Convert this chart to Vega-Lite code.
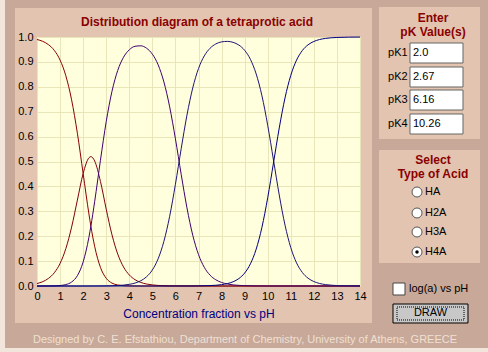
{
  "$schema": "https://vega.github.io/schema/vega-lite/v6.json",
  "width": 323,
  "height": 249,
  "autosize": {"type": "none"},
  "padding": {"left": 37, "top": 37, "right": 128, "bottom": 66},
  "background": "#e2c4b0",
  "config": {
    "view": {"fill": "#ffffdd", "stroke": null},
    "font": "Liberation Sans",
    "text": {"font": "Liberation Sans"}
  },
  "data": {"values": [{}]},
  "resolve": {"scale": {"x": "independent", "y": "independent"}},
  "layer": [
    {
      "data": {"values": [
        {"pH": 0, "s": "H4A", "f": 0.990}, {"pH": 0.25, "s": "H4A", "f": 0.9825}, {"pH": 0.5, "s": "H4A", "f": 0.9691}, {"pH": 0.75, "s": "H4A", "f": 0.9462}, {"pH": 1, "s": "H4A", "f": 0.9073}, {"pH": 1.25, "s": "H4A", "f": 0.8442}, {"pH": 1.5, "s": "H4A", "f": 0.7476}, {"pH": 1.75, "s": "H4A", "f": 0.6135}, {"pH": 2, "s": "H4A", "f": 0.4517}, {"pH": 2.25, "s": "H4A", "f": 0.2895}, {"pH": 2.335, "s": "H4A", "f": 0.2402}, {"pH": 2.5, "s": "H4A", "f": 0.1587}, {"pH": 2.75, "s": "H4A", "f": 0.0747}, {"pH": 3, "s": "H4A", "f": 0.0309}, {"pH": 3.25, "s": "H4A", "f": 0.0116}, {"pH": 3.5, "s": "H4A", "f": 0.0041}, {"pH": 3.75, "s": "H4A", "f": 0.0014}, {"pH": 4, "s": "H4A", "f": 0.0004}, {"pH": 4.5, "s": "H4A", "f": 0}, {"pH": 14, "s": "H4A", "f": 0},
        {"pH": 0, "s": "H3A", "f": 0.0099}, {"pH": 0.25, "s": "H3A", "f": 0.0175}, {"pH": 0.5, "s": "H3A", "f": 0.0307}, {"pH": 0.75, "s": "H3A", "f": 0.0532}, {"pH": 1, "s": "H3A", "f": 0.0907}, {"pH": 1.25, "s": "H3A", "f": 0.1501}, {"pH": 1.5, "s": "H3A", "f": 0.2364}, {"pH": 1.75, "s": "H3A", "f": 0.345}, {"pH": 2, "s": "H3A", "f": 0.4517}, {"pH": 2.25, "s": "H3A", "f": 0.5148}, {"pH": 2.335, "s": "H3A", "f": 0.5196}, {"pH": 2.5, "s": "H3A", "f": 0.5019}, {"pH": 2.75, "s": "H3A", "f": 0.4201}, {"pH": 3, "s": "H3A", "f": 0.3087}, {"pH": 3.25, "s": "H3A", "f": 0.2056}, {"pH": 3.5, "s": "H3A", "f": 0.1281}, {"pH": 3.75, "s": "H3A", "f": 0.0764}, {"pH": 4, "s": "H3A", "f": 0.0444}, {"pH": 4.25, "s": "H3A", "f": 0.0253}, {"pH": 4.5, "s": "H3A", "f": 0.0143}, {"pH": 4.75, "s": "H3A", "f": 0.0079}, {"pH": 5, "s": "H3A", "f": 0.0044}, {"pH": 5.25, "s": "H3A", "f": 0.0023}, {"pH": 5.5, "s": "H3A", "f": 0.0012}, {"pH": 5.75, "s": "H3A", "f": 0.0006}, {"pH": 6, "s": "H3A", "f": 0.0003}, {"pH": 6.5, "s": "H3A", "f": 0}, {"pH": 14, "s": "H3A", "f": 0},
        {"pH": 0, "s": "H2A", "f": 0}, {"pH": 0.5, "s": "H2A", "f": 0.0002}, {"pH": 0.75, "s": "H2A", "f": 0.0006}, {"pH": 1, "s": "H2A", "f": 0.0019}, {"pH": 1.25, "s": "H2A", "f": 0.0057}, {"pH": 1.5, "s": "H2A", "f": 0.016}, {"pH": 1.75, "s": "H2A", "f": 0.0415}, {"pH": 2, "s": "H2A", "f": 0.0966}, {"pH": 2.25, "s": "H2A", "f": 0.1957}, {"pH": 2.335, "s": "H2A", "f": 0.2402}, {"pH": 2.5, "s": "H2A", "f": 0.3393}, {"pH": 2.75, "s": "H2A", "f": 0.505}, {"pH": 3, "s": "H2A", "f": 0.66}, {"pH": 3.25, "s": "H2A", "f": 0.7818}, {"pH": 3.5, "s": "H2A", "f": 0.866}, {"pH": 3.75, "s": "H2A", "f": 0.9187}, {"pH": 4, "s": "H2A", "f": 0.9486}, {"pH": 4.25, "s": "H2A", "f": 0.9627}, {"pH": 4.5, "s": "H2A", "f": 0.9646}, {"pH": 4.75, "s": "H2A", "f": 0.9549}, {"pH": 5, "s": "H2A", "f": 0.9312}, {"pH": 5.25, "s": "H2A", "f": 0.8884}, {"pH": 5.5, "s": "H2A", "f": 0.8195}, {"pH": 5.75, "s": "H2A", "f": 0.7195}, {"pH": 6, "s": "H2A", "f": 0.5909}, {"pH": 6.25, "s": "H2A", "f": 0.4483}, {"pH": 6.5, "s": "H2A", "f": 0.3137}, {"pH": 6.75, "s": "H2A", "f": 0.2044}, {"pH": 7, "s": "H2A", "f": 0.1262}, {"pH": 7.25, "s": "H2A", "f": 0.0751}, {"pH": 7.5, "s": "H2A", "f": 0.0436}, {"pH": 7.75, "s": "H2A", "f": 0.025}, {"pH": 8, "s": "H2A", "f": 0.0142}, {"pH": 8.25, "s": "H2A", "f": 0.008}, {"pH": 8.5, "s": "H2A", "f": 0.0045}, {"pH": 8.75, "s": "H2A", "f": 0.0025}, {"pH": 9, "s": "H2A", "f": 0.0014}, {"pH": 9.5, "s": "H2A", "f": 0.0004}, {"pH": 10, "s": "H2A", "f": 0.0001}, {"pH": 14, "s": "H2A", "f": 0},
        {"pH": 0, "s": "HA", "f": 0}, {"pH": 2, "s": "HA", "f": 0}, {"pH": 2.5, "s": "HA", "f": 0.0001}, {"pH": 3, "s": "HA", "f": 0.0005}, {"pH": 3.25, "s": "HA", "f": 0.001}, {"pH": 3.5, "s": "HA", "f": 0.0019}, {"pH": 3.75, "s": "HA", "f": 0.0036}, {"pH": 4, "s": "HA", "f": 0.0066}, {"pH": 4.25, "s": "HA", "f": 0.0118}, {"pH": 4.5, "s": "HA", "f": 0.0211}, {"pH": 4.75, "s": "HA", "f": 0.0372}, {"pH": 5, "s": "HA", "f": 0.0644}, {"pH": 5.25, "s": "HA", "f": 0.1093}, {"pH": 5.5, "s": "HA", "f": 0.1793}, {"pH": 5.75, "s": "HA", "f": 0.2799}, {"pH": 6, "s": "HA", "f": 0.4088}, {"pH": 6.25, "s": "HA", "f": 0.5515}, {"pH": 6.5, "s": "HA", "f": 0.6862}, {"pH": 6.75, "s": "HA", "f": 0.7953}, {"pH": 7, "s": "HA", "f": 0.8733}, {"pH": 7.25, "s": "HA", "f": 0.924}, {"pH": 7.5, "s": "HA", "f": 0.9547}, {"pH": 7.75, "s": "HA", "f": 0.9721}, {"pH": 8, "s": "HA", "f": 0.9804}, {"pH": 8.25, "s": "HA", "f": 0.9824}, {"pH": 8.5, "s": "HA", "f": 0.9785}, {"pH": 8.75, "s": "HA", "f": 0.9676}, {"pH": 9, "s": "HA", "f": 0.9466}, {"pH": 9.25, "s": "HA", "f": 0.9103}, {"pH": 9.5, "s": "HA", "f": 0.8516}, {"pH": 9.75, "s": "HA", "f": 0.7638}, {"pH": 10, "s": "HA", "f": 0.6453}, {"pH": 10.25, "s": "HA", "f": 0.5058}, {"pH": 10.5, "s": "HA", "f": 0.3653}, {"pH": 10.75, "s": "HA", "f": 0.2445}, {"pH": 11, "s": "HA", "f": 0.154}, {"pH": 11.25, "s": "HA", "f": 0.0928}, {"pH": 11.5, "s": "HA", "f": 0.0544}, {"pH": 11.75, "s": "HA", "f": 0.0313}, {"pH": 12, "s": "HA", "f": 0.0179}, {"pH": 12.25, "s": "HA", "f": 0.0101}, {"pH": 12.5, "s": "HA", "f": 0.0057}, {"pH": 12.75, "s": "HA", "f": 0.0032}, {"pH": 13, "s": "HA", "f": 0.0018}, {"pH": 13.5, "s": "HA", "f": 0.0006}, {"pH": 14, "s": "HA", "f": 0.0002},
        {"pH": 0, "s": "A", "f": 0}, {"pH": 5.5, "s": "A", "f": 0}, {"pH": 6.5, "s": "A", "f": 0.0001}, {"pH": 7, "s": "A", "f": 0.0005}, {"pH": 7.5, "s": "A", "f": 0.0017}, {"pH": 8, "s": "A", "f": 0.0054}, {"pH": 8.25, "s": "A", "f": 0.0096}, {"pH": 8.5, "s": "A", "f": 0.017}, {"pH": 8.75, "s": "A", "f": 0.0299}, {"pH": 9, "s": "A", "f": 0.052}, {"pH": 9.25, "s": "A", "f": 0.089}, {"pH": 9.5, "s": "A", "f": 0.148}, {"pH": 9.75, "s": "A", "f": 0.236}, {"pH": 10, "s": "A", "f": 0.3546}, {"pH": 10.25, "s": "A", "f": 0.4942}, {"pH": 10.5, "s": "A", "f": 0.6347}, {"pH": 10.75, "s": "A", "f": 0.7555}, {"pH": 11, "s": "A", "f": 0.846}, {"pH": 11.25, "s": "A", "f": 0.9072}, {"pH": 11.5, "s": "A", "f": 0.9456}, {"pH": 11.75, "s": "A", "f": 0.9687}, {"pH": 12, "s": "A", "f": 0.9821}, {"pH": 12.25, "s": "A", "f": 0.9899}, {"pH": 12.5, "s": "A", "f": 0.9943}, {"pH": 12.75, "s": "A", "f": 0.9968}, {"pH": 13, "s": "A", "f": 0.9982}, {"pH": 13.5, "s": "A", "f": 0.9994}, {"pH": 14, "s": "A", "f": 0.9998}
      ]},
      "mark": {"type": "line", "strokeWidth": 1, "interpolate": "monotone"},
      "encoding": {
        "x": {"field": "pH", "type": "quantitative",
          "scale": {"domain": [0, 14], "nice": false, "zero": false},
          "axis": {"values": [0,1,2,3,4,5,6,7,8,9,10,11,12,13,14], "title": "Concentration fraction vs pH", "grid": true, "gridColor": "#e8e6b8", "ticks": false, "domain": false, "labelFontSize": 11, "labelColor": "#000000", "labelPadding": 4, "labelFlush": false, "labelOverlap": false, "labelBound": false, "titleColor": "#000080", "titleFontSize": 12, "titleFontWeight": "normal", "titlePadding": 7}},
        "y": {"field": "f", "type": "quantitative",
          "scale": {"domain": [0, 1], "nice": false, "zero": false},
          "axis": {"values": [0,0.1,0.2,0.3,0.4,0.5,0.6,0.7,0.8,0.9,1], "format": ".1f", "title": null, "grid": true, "gridColor": "#e8e6b8", "ticks": false, "domain": false, "labelFontSize": 11, "labelColor": "#000000", "labelPadding": 4, "labelFlush": false, "labelOverlap": false, "labelBound": false}},
        "color": {"field": "s", "type": "nominal", "legend": null,
          "scale": {"domain": ["H4A", "H3A", "H2A", "HA", "A"], "range": ["#8b0000", "#800010", "#40006e", "#1e1478", "#000080"]}}
      }
    },
    {
      "layer": [
        {"mark": {"type": "rect", "fill": "#c8a898"}, "encoding": {"x": {"datum": -3, "axis": null, "scale": {"domain": [0, 14], "nice": false, "zero": false}}, "x2": {"datum": -0.9536}, "y": {"datum": 1.3, "axis": null, "scale": {"domain": [0, 1], "nice": false, "zero": false}}, "y2": {"datum": -0.4}}},
        {"mark": {"type": "rect", "fill": "#c8a898"}, "encoding": {"x": {"datum": -3, "axis": null}, "x2": {"datum": 25}, "y": {"datum": 1.3, "axis": null}, "y2": {"datum": 1.1165}}},
        {"mark": {"type": "rect", "fill": "#c8a898"}, "encoding": {"x": {"datum": 14.5201, "axis": null}, "x2": {"datum": 25}, "y": {"datum": 1.3, "axis": null}, "y2": {"datum": -0.4}}},
        {"mark": {"type": "rect", "fill": "#c8a898"}, "encoding": {"x": {"datum": -3, "axis": null}, "x2": {"datum": 25}, "y": {"datum": -0.1486, "axis": null}, "y2": {"datum": -0.4}}},
        {"mark": {"type": "rect", "fill": "#f2e6dc"}, "encoding": {"x": {"datum": -3, "axis": null}, "x2": {"datum": -1.387}, "y": {"datum": 1.3, "axis": null}, "y2": {"datum": -0.4}}},
        {"mark": {"type": "rect", "fill": "#f2e6dc"}, "encoding": {"x": {"datum": -3, "axis": null}, "x2": {"datum": 25}, "y": {"datum": -0.249, "axis": null}, "y2": {"datum": -0.4}}},
        {"mark": {"type": "rect", "fill": "#e2c4b0"}, "encoding": {"x": {"datum": 14.8235, "axis": null}, "x2": {"datum": 19.2012}, "y": {"datum": 1.1205, "axis": null}, "y2": {"datum": 0.5904}}},
        {"mark": {"type": "rect", "fill": "#e2c4b0"}, "encoding": {"x": {"datum": 14.8235, "axis": null}, "x2": {"datum": 19.2012}, "y": {"datum": 0.5462, "axis": null}, "y2": {"datum": 0.0924}}},
        {"mark": {"type": "text", "text": "Distribution diagram of a tetraprotic acid", "fontWeight": "bold", "fontSize": 12, "color": "#8b0000"}, "encoding": {"x": {"datum": 6.935, "axis": null}, "y": {"datum": 1.0602, "axis": null}}},
        {"mark": {"type": "text", "text": "Designed by C. E. Efstathiou, Department of Chemistry, University of Athens, GREECE", "fontSize": 11, "color": "#efe0d4"}, "encoding": {"x": {"datum": 9.0155, "axis": null}, "y": {"datum": -0.2169, "axis": null}}},
        {"mark": {"type": "text", "text": "Enter", "fontWeight": "bold", "fontSize": 12, "color": "#8b0000"}, "encoding": {"x": {"datum": 17.164, "axis": null}, "y": {"datum": 1.0763, "axis": null}}},
        {"mark": {"type": "text", "text": "pK Value(s)", "fontWeight": "bold", "fontSize": 12, "color": "#8b0000"}, "encoding": {"x": {"datum": 17.164, "axis": null}, "y": {"datum": 1.0201, "axis": null}}},
        {"mark": {"type": "rect", "fill": "#ffffff", "stroke": "#666666", "strokeWidth": 1}, "encoding": {"x": {"datum": 16.167, "axis": null}, "x2": {"datum": 18.464}, "y": {"datum": 0.9759, "axis": null}, "y2": {"datum": 0.8956}}},
        {"mark": {"type": "rect", "fill": "#ffffff", "stroke": "#666666", "strokeWidth": 1}, "encoding": {"x": {"datum": 16.167, "axis": null}, "x2": {"datum": 18.464}, "y": {"datum": 0.8795, "axis": null}, "y2": {"datum": 0.7992}}},
        {"mark": {"type": "rect", "fill": "#ffffff", "stroke": "#666666", "strokeWidth": 1}, "encoding": {"x": {"datum": 16.167, "axis": null}, "x2": {"datum": 18.464}, "y": {"datum": 0.7871, "axis": null}, "y2": {"datum": 0.7068}}},
        {"mark": {"type": "rect", "fill": "#ffffff", "stroke": "#666666", "strokeWidth": 1}, "encoding": {"x": {"datum": 16.167, "axis": null}, "x2": {"datum": 18.464}, "y": {"datum": 0.6908, "axis": null}, "y2": {"datum": 0.6104}}},
        {"mark": {"type": "text", "text": "pK1", "fontSize": 11, "align": "left", "color": "#000000"}, "encoding": {"x": {"datum": 15.214, "axis": null}, "y": {"datum": 0.9357, "axis": null}}},
        {"mark": {"type": "text", "text": "pK2", "fontSize": 11, "align": "left", "color": "#000000"}, "encoding": {"x": {"datum": 15.214, "axis": null}, "y": {"datum": 0.8394, "axis": null}}},
        {"mark": {"type": "text", "text": "pK3", "fontSize": 11, "align": "left", "color": "#000000"}, "encoding": {"x": {"datum": 15.214, "axis": null}, "y": {"datum": 0.747, "axis": null}}},
        {"mark": {"type": "text", "text": "pK4", "fontSize": 11, "align": "left", "color": "#000000"}, "encoding": {"x": {"datum": 15.214, "axis": null}, "y": {"datum": 0.6506, "axis": null}}},
        {"mark": {"type": "text", "text": "2.0", "fontSize": 11, "align": "left", "color": "#000000"}, "encoding": {"x": {"datum": 16.297, "axis": null}, "y": {"datum": 0.9357, "axis": null}}},
        {"mark": {"type": "text", "text": "2.67", "fontSize": 11, "align": "left", "color": "#000000"}, "encoding": {"x": {"datum": 16.297, "axis": null}, "y": {"datum": 0.8394, "axis": null}}},
        {"mark": {"type": "text", "text": "6.16", "fontSize": 11, "align": "left", "color": "#000000"}, "encoding": {"x": {"datum": 16.297, "axis": null}, "y": {"datum": 0.747, "axis": null}}},
        {"mark": {"type": "text", "text": "10.26", "fontSize": 11, "align": "left", "color": "#000000"}, "encoding": {"x": {"datum": 16.297, "axis": null}, "y": {"datum": 0.6506, "axis": null}}},
        {"mark": {"type": "text", "text": "Select", "fontWeight": "bold", "fontSize": 12, "color": "#8b0000"}, "encoding": {"x": {"datum": 17.164, "axis": null}, "y": {"datum": 0.506, "axis": null}}},
        {"mark": {"type": "text", "text": "Type of Acid", "fontWeight": "bold", "fontSize": 12, "color": "#8b0000"}, "encoding": {"x": {"datum": 17.164, "axis": null}, "y": {"datum": 0.4498, "axis": null}}},
        {"mark": {"type": "point", "shape": "circle", "filled": true, "fill": "#ffffff", "stroke": "#555555", "strokeWidth": 1, "size": 100, "opacity": 1}, "encoding": {"x": {"datum": 16.471, "axis": null}, "y": {"datum": 0.3775, "axis": null}}},
        {"mark": {"type": "point", "shape": "circle", "filled": true, "fill": "#ffffff", "stroke": "#555555", "strokeWidth": 1, "size": 100, "opacity": 1}, "encoding": {"x": {"datum": 16.471, "axis": null}, "y": {"datum": 0.2932, "axis": null}}},
        {"mark": {"type": "point", "shape": "circle", "filled": true, "fill": "#ffffff", "stroke": "#555555", "strokeWidth": 1, "size": 100, "opacity": 1}, "encoding": {"x": {"datum": 16.471, "axis": null}, "y": {"datum": 0.2169, "axis": null}}},
        {"mark": {"type": "point", "shape": "circle", "filled": true, "fill": "#ffffff", "stroke": "#555555", "strokeWidth": 1, "size": 100, "opacity": 1}, "encoding": {"x": {"datum": 16.471, "axis": null}, "y": {"datum": 0.1365, "axis": null}}},
        {"mark": {"type": "point", "shape": "circle", "filled": true, "fill": "#000000", "size": 12, "opacity": 1}, "encoding": {"x": {"datum": 16.471, "axis": null}, "y": {"datum": 0.1365, "axis": null}}},
        {"mark": {"type": "text", "text": "HA", "fontSize": 11, "align": "left", "color": "#000000"}, "encoding": {"x": {"datum": 16.818, "axis": null}, "y": {"datum": 0.3775, "axis": null}}},
        {"mark": {"type": "text", "text": "H2A", "fontSize": 11, "align": "left", "color": "#000000"}, "encoding": {"x": {"datum": 16.818, "axis": null}, "y": {"datum": 0.2932, "axis": null}}},
        {"mark": {"type": "text", "text": "H3A", "fontSize": 11, "align": "left", "color": "#000000"}, "encoding": {"x": {"datum": 16.818, "axis": null}, "y": {"datum": 0.2169, "axis": null}}},
        {"mark": {"type": "text", "text": "H4A", "fontSize": 11, "align": "left", "color": "#000000"}, "encoding": {"x": {"datum": 16.818, "axis": null}, "y": {"datum": 0.1365, "axis": null}}},
        {"mark": {"type": "rect", "fill": "#ffffff", "stroke": "#444444", "strokeWidth": 1}, "encoding": {"x": {"datum": 15.43, "axis": null}, "x2": {"datum": 15.95}, "y": {"datum": 0.012, "axis": null}, "y2": {"datum": -0.0361}}},
        {"mark": {"type": "text", "text": "log(a) vs pH", "fontSize": 11, "align": "left", "color": "#000000"}, "encoding": {"x": {"datum": 16.124, "axis": null}, "y": {"datum": -0.012, "axis": null}}},
        {"mark": {"type": "rect", "fill": "#c8c8c8", "stroke": "#000000", "strokeWidth": 1}, "encoding": {"x": {"datum": 15.43, "axis": null}, "x2": {"datum": 18.681}, "y": {"datum": -0.0723, "axis": null}, "y2": {"datum": -0.1486}}},
        {"mark": {"type": "rect", "fill": null, "stroke": "#000000", "strokeWidth": 1, "strokeDash": [1, 1]}, "encoding": {"x": {"datum": 15.604, "axis": null}, "x2": {"datum": 18.508}, "y": {"datum": -0.0843, "axis": null}, "y2": {"datum": -0.1365}}},
        {"mark": {"type": "text", "text": "DRAW", "fontSize": 11, "color": "#000000"}, "encoding": {"x": {"datum": 17.056, "axis": null}, "y": {"datum": -0.1104, "axis": null}}}
      ]
    }
  ]
}
